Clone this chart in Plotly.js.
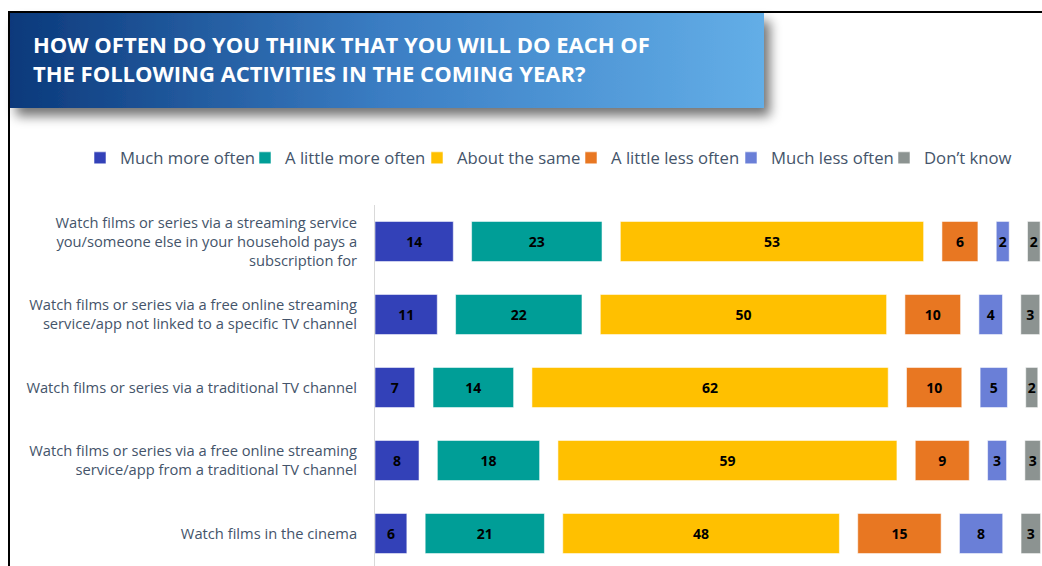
<!DOCTYPE html>
<html><head><meta charset="utf-8">
<script src="https://cdn.plot.ly/plotly-3.0.1.min.js"></script>
<style>html,body{margin:0;padding:0;background:#fff;overflow:hidden}#chart{width:1042px;height:566px}</style>
</head><body><div id="chart"></div>
<script>
const categories = [
  "Watch films or series via a streaming service<br>you/someone else in your household pays a<br>subscription for",
  "Watch films or series via a free online streaming<br>service/app not linked to a specific TV channel",
  "Watch films or series via a traditional TV channel",
  "Watch films or series via a free online streaming<br>service/app from a traditional TV channel",
  "Watch films in the cinema"
];
const seriesNames = ["Much more often", "A little more often", "About the same", "A little less often", "Much less often", "Don\u2019t know"];
// values (labels show them rounded)
const muchMore   = [13.64, 10.85, 6.92, 7.67, 5.55];
const littleMore = [22.72, 22.02, 14.04, 17.82, 20.78];
const aboutSame  = [52.84, 49.88, 62.07, 59.06, 48.2];
const littleLess = [6.27, 9.70, 9.63, 9.41, 14.53];
const muchLess   = [2.26, 4.11, 4.76, 3.31, 7.54];
const dontKnow   = [2.2, 3.3, 2.1, 2.7, 3.4];
const titleText = "HOW OFTEN DO YOU THINK THAT YOU WILL DO EACH OF<br>THE FOLLOWING ACTIVITIES IN THE COMING YEAR?";

const colors = ["#3341B8", "#009E97", "#FFC000", "#E87722", "#6A7FD7", "#8C9391"];
const series = [muchMore, littleMore, aboutSame, littleLess, muchLess, dontKnow];
const GAP = 3.19;
const FONT = "Open Sans, Noto Sans, sans-serif";
const TXT = "#44546A";

const W = 1042, H = 566, ML = 375, MT = 205;
const PW = W - ML, PH = H - MT;
const PX_PER_UNIT = 5.74, ROW_PX = 73;

const legendTextX = [120, 285, 457, 611, 771, 924];

const traces = series.map((vals, j) => {
  const base = vals.map((v, i) => {
    let s = 0;
    for (let k = 0; k < j; k++) s += series[k][i];
    return s + j * GAP;
  });
  return {
    type: "bar", orientation: "h",
    name: seriesNames[j],
    y: categories, x: vals, base: base,
    width: 0.55,
    text: vals.map(v => v.toFixed(0)), texttemplate: "%{text}",
    textposition: "inside", insidetextanchor: "middle",
    constraintext: "none",
    textfont: {family: FONT, size: 14, color: "#000", weight: "bold"},
    marker: {color: colors[j], line: {color: "rgba(255,255,255,0.55)", width: 1}},
    legend: j === 0 ? "legend" : "legend" + (j + 1),
    hoverinfo: "skip"
  };
});

const svg = `<svg xmlns='http://www.w3.org/2000/svg' width='${W}' height='${H}'>
<defs>
<linearGradient id='g' x1='0' y1='0' x2='1' y2='0'>
<stop offset='0' stop-color='#0B397B'/>
<stop offset='0.5' stop-color='#3B7EC4'/>
<stop offset='1' stop-color='#63AEE7'/>
</linearGradient>
<filter id='s' x='-10%' y='-30%' width='130%' height='180%'>
<feGaussianBlur in='SourceAlpha' stdDeviation='6'/>
<feOffset dx='6' dy='8'/>
<feComponentTransfer><feFuncA type='linear' slope='0.55'/></feComponentTransfer>
<feMerge><feMergeNode/><feMergeNode in='SourceGraphic'/></feMerge>
</filter>
</defs>
<rect x='10' y='13' width='754' height='95' fill='url(#g)' filter='url(#s)'/>
<line x1='8' y1='12' x2='${W}' y2='12' stroke='#000' stroke-width='2'/>
<line x1='9' y1='11' x2='9' y2='${H}' stroke='#000' stroke-width='2'/>
</svg>`;

const layout = {
  width: W, height: H,
  margin: {l: ML, r: 0, t: MT, b: 0, pad: 0},
  paper_bgcolor: "#fff", plot_bgcolor: "rgba(0,0,0,0)",
  barmode: "overlay",
  font: {family: FONT, color: TXT},
  title: {
    text: titleText, xref: "container", yref: "container",
    x: 33 / W, xanchor: "left", y: 1 - 53 / H, yanchor: "top",
    font: {family: FONT, size: 22, color: "#fff", weight: "bold"}
  },
  xaxis: {range: [0, PW / PX_PER_UNIT], visible: false, fixedrange: true},
  yaxis: {
    type: "category", categoryarray: categories,
    range: [-0.5 + PH / ROW_PX, -0.5],
    showline: true, linecolor: "#D9D9D9", linewidth: 1,
    showgrid: false, zeroline: false,
    ticks: "outside", ticklen: 14, tickcolor: "rgba(0,0,0,0)",
    tickfont: {family: FONT, size: 14.7, color: TXT},
    fixedrange: true
  },
  images: [{
    source: "data:image/svg+xml;base64," + btoa(svg),
    xref: "paper", yref: "paper",
    x: -ML / PW, y: H / PH, sizex: W / PW, sizey: H / PH,
    xanchor: "left", yanchor: "top", sizing: "stretch", layer: "below"
  }],
  showlegend: true
};
legendTextX.forEach((tx, j) => {
  const key = j === 0 ? "legend" : "legend" + (j + 1);
  layout[key] = {
    orientation: "h", xref: "container", yref: "container",
    x: (tx - 40) / W, xanchor: "left", y: 1 - 158 / H, yanchor: "middle",
    bgcolor: "rgba(0,0,0,0)", borderwidth: 0,
    font: {family: FONT, size: 16.7, color: TXT}
  };
});

Plotly.newPlot("chart", traces, layout, {displayModeBar: false, staticPlot: true});
</script></body></html>
